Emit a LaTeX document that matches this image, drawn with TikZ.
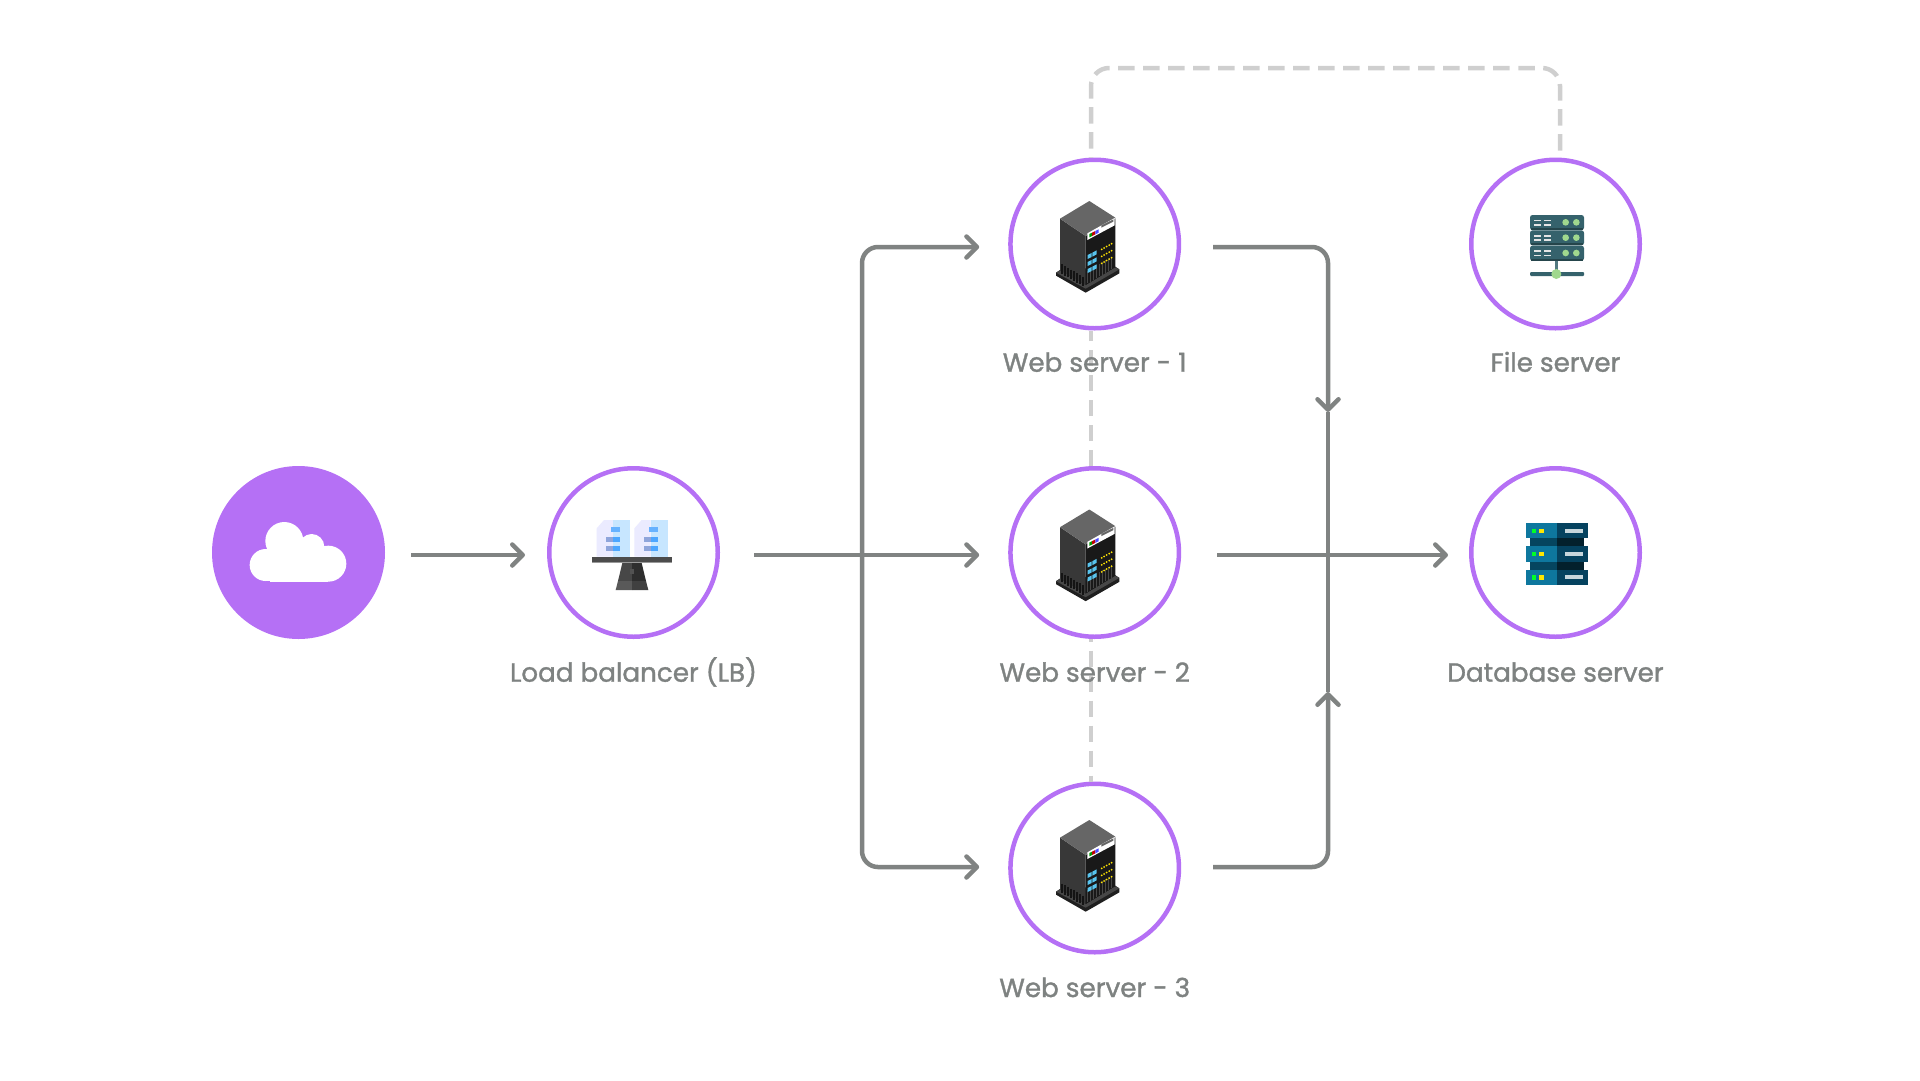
\documentclass[tikz,border=0pt]{standalone}
\usepackage{fontspec}
\usetikzlibrary{arrows.meta}
\setmainfont{Poppins}[FakeBold=1.3]
\definecolor{purp}{HTML}{B570F5}
\definecolor{conn}{HTML}{808382}
\definecolor{dashc}{HTML}{CFCFCF}
\definecolor{labc}{HTML}{7E8281}
\definecolor{bluebox}{HTML}{58C4EE}
\tikzset{
  srv/.style={circle,draw=purp,line width=4.5pt,fill=white,minimum size=168.5pt,inner sep=0pt},
  cloudbg/.style={circle,fill=purp,minimum size=173pt,inner sep=0pt,outer sep=0pt},
  lab/.style={anchor=base,text=labc,inner sep=0pt,font=\fontsize{26.2}{30}\selectfont},
  conline/.style={draw=conn,line width=4.5pt,rounded corners=16pt},
  tipped/.style={conline,-{Straight Barb[length=10.5pt,width=21pt,round]}},
  dashline/.style={draw=dashc,line width=4.5pt,dash pattern=on 16.5pt off 8.5pt,rounded corners=18pt},
  zoomed/.style={x=.33333pt,y=-.33333pt}
}
\newcommand{\towericon}[2]{%
\begin{scope}[shift={(#1,#2)},zoomed]
 \fill[black!88] (168,368)--(180,360)--(346,350)--(358,358)--(358,370)--(257,428)--(168,377)--cycle;
 \fill[black!72] (168,368)--(180,361)--(257,405)--(346,352)--(358,358)--(257,416)--cycle;
 \fill[black!78] (180,206)--(257,258)--(257,405)--(180,360)--cycle;
 \fill[black!90] (257,258)--(346,205)--(346,351)--(257,405)--cycle;
 \fill[black!60] (268,153)--(346,203)--(257,258)--(180,206)--cycle;
 \foreach \s in {186,195,...,250}{\draw[black!92,line width=1.2pt] (\s,{340+(\s-180)*.58})--(\s,{368+(\s-180)*.58});}
 \foreach \s in {263,272,...,342}{\draw[black!72,line width=1.2pt] (\s,{362-(\s-263)*.58})--(\s,{400-(\s-263)*.58});}
 \fill[white] (262,250)--(344,204)--(344,226)--(262,270)--cycle;
 \fill[black!60] (304,226)--(340,208)--(340,215)--(304,233)--cycle;
 \fill[green!60!black] (268,252)--(276,248)--(276,258)--(268,262)--cycle;
 \fill[red!75!black] (276,248)--(286,243)--(286,253)--(276,258)--cycle;
 \fill[blue!70] (286,243)--(296,238)--(296,248)--(286,253)--cycle;
 \foreach \r in {0,21,42}{
  \foreach \d in {0,1,2,3,4}{\fill[yellow!85!orange] ({305+\d*7.5},{298-\d*4.2+\r}) circle[radius=3];}
  \fill[bluebox] (263,{315+\r})--(275,{309+\r})--(275,{321+\r})--(263,{327+\r})--cycle;
  \fill[bluebox] (277,{308+\r})--(290,{301+\r})--(290,{313+\r})--(277,{320+\r})--cycle;
 }
\end{scope}}
\begin{document}
\begin{tikzpicture}[x=1pt,y=-1pt]
\useasboundingbox (0,0) rectangle (1920,1080);
% servers
\node[cloudbg] (cloud) at (298.5,552.5) {};
\node[srv] (lb) at (633.5,552.5) {};
\node[srv] (web1) at (1094.7,244) {};
\node[srv] (web2) at (1094.7,552.5) {};
\node[srv] (web3) at (1094.7,868) {};
\node[srv] (file) at (1555.5,244) {};
\node[srv] (db) at (1555.5,552.5) {};
\coordinate (dashtop) at (1300,68);
\coordinate (splitin) at (862,555);
\coordinate (dnmid) at (1328,412);
\coordinate (upmid) at (1328,692);
% dashed links
\draw[dashline] ([shift={(4.5,-7)}]file.north) |- (dashtop) -| ([xshift=-3.7pt]web1.north);
\draw[dashline] ([xshift=-3.7pt]web2.north) -- ([xshift=-3.7pt]web1.south);
\draw[dashline,dash phase=13.3pt] ([xshift=-3.7pt]web2.south) -- ([xshift=-3.7pt]web3.north);
% solid connectors
\draw[tipped] ([shift={(26,2.5)}]cloud.east) -- ([shift={(-22,2.5)}]lb.west);
\draw[tipped] ([shift={(34,2.5)}]lb.east) -- ([shift={(-29,2.5)}]web2.west);
\draw[tipped] (splitin) |- ([shift={(-29,3)}]web1.west);
\draw[tipped] (splitin) |- ([shift={(-29,-1)}]web3.west);
\draw[tipped] ([shift={(32,3)}]web1.east) -| (dnmid);
\draw[tipped] ([shift={(32,-1)}]web3.east) -| (upmid);
\draw[conline] (dnmid) -- (upmid);
\draw[tipped] ([shift={(36,2.5)}]web2.east) -- ([shift={(-21,2.5)}]db.west);
% labels
\node[lab] (llb) at (633.5,681.7) {Load balancer (LB)};
\node[lab] (lw1) at (1094.7,371.7) {Web server - 1};
\node[lab] (lw2) at (1094.7,681.7) {Web server - 2};
\node[lab] (lw3) at (1094.7,997) {Web server - 3};
\node[lab] (lfile) at (1555.5,371.7) {File server};
\node[lab] (ldb) at (1555.5,681.7) {Database server};
% cloud icon
\begin{scope}[shift={(200,460)},zoomed]
 \fill[white] (197,315) circle[radius=48];
 \fill[white] (253,243) circle[radius=57];
 \fill[white] (335,260) circle[radius=38];
 \fill[white] (385,311) circle[radius=54];
 \fill[white] (210,262) rectangle (385,365);
 \fill[white] (197,300) rectangle (210,363);
\end{scope}
% tower icons
\towericon{1000}{150}
\towericon{1000}{458.5}
\towericon{1000}{769}
% load balancer icon
\begin{scope}[shift={(540,460)},zoomed]
 \foreach \o in {0,113}{
  \fill[blue!8] ({170+\o},205)--({192+\o},180)--({219+\o},180)--({219+\o},290)--({170+\o},290)--cycle;
  \fill[blue!45!cyan!22] ({219+\o},180) rectangle ({270+\o},290);
  \fill[blue!50!cyan!60] ({213+\o},201) rectangle ({241+\o},216);
  \fill[cyan!40!blue!45] ({198+\o},230) rectangle ({219+\o},245);
  \fill[blue!50!cyan!70] ({219+\o},230) rectangle ({241+\o},245);
  \fill[cyan!40!blue!45] ({198+\o},258) rectangle ({219+\o},273);
  \fill[blue!50!cyan!70] ({219+\o},258) rectangle ({241+\o},273);
 }
 \fill[black!70] (156,292) rectangle (396,305);
 \fill[black!40] (156,305) rectangle (396,309);
 \fill[black!72] (247,309)--(276,309)--(276,363)--(234,363)--cycle;
 \fill[black!82] (276,309)--(305,309)--(318,363)--(276,363)--cycle;
 \fill[black!65] (234,363)--(276,363)--(276,390)--(227,390)--cycle;
 \fill[black!75] (276,363)--(318,363)--(325,390)--(276,390)--cycle;
 \fill[black!68] (270,328) rectangle (283,342);
\end{scope}
% file server icon
\begin{scope}[shift={(1460,150)},zoomed]
 \definecolor{fsteal}{HTML}{35626C}
 \definecolor{fsgreen}{HTML}{A0D88E}
 \foreach \y in {195,241,287}{
  \fill[fsteal,rounded corners=2.5pt] (210,\y) rectangle (372,{\y+45});
  \fill[fsteal!70!black] (212,{\y+39}) rectangle (370,{\y+45});
  \fill[white!90!black] (221,{\y+14}) rectangle (243,{\y+19});
  \fill[white!90!black] (251,{\y+14}) rectangle (273,{\y+19});
  \fill[white!90!black] (221,{\y+27}) rectangle (243,{\y+32});
  \fill[white!90!black] (251,{\y+27}) rectangle (273,{\y+32});
  \fill[fsgreen] (317,{\y+22}) circle[radius=10];
  \fill[fsgreen] (349,{\y+22}) circle[radius=10];
 }
 \fill[fsteal!85!white] (284,332) rectangle (295,372);
 \fill[fsteal,rounded corners=1pt] (210,366) rectangle (372,378);
 \fill[fsgreen] (289,372) circle[radius=15];
\end{scope}
% database icon
\begin{scope}[shift={(1460,460)},zoomed]
 \definecolor{dbl}{HTML}{0E779E}
 \definecolor{dbr}{HTML}{05425F}
 \definecolor{dbml}{HTML}{05455F}
 \definecolor{dbmr}{HTML}{03202C}
 \foreach \y in {235,305}{
  \fill[dbml] (210,\y) rectangle (291,{\y+24});
  \fill[dbmr] (291,\y) rectangle (372,{\y+24});
 }
 \foreach \y in {189,259,329}{
  \fill[dbl] (198,\y) rectangle (291,{\y+46});
  \fill[dbr] (291,\y) rectangle (384,{\y+46});
  \fill[green!85!cyan] (215,{\y+17}) rectangle (228,{\y+30});
  \fill[yellow!90!orange] (238,{\y+17}) rectangle (251,{\y+30});
  \fill[cyan!12!white!85!black] (316,{\y+17}) rectangle (368,{\y+29});
 }
\end{scope}
\end{tikzpicture}
\end{document}
